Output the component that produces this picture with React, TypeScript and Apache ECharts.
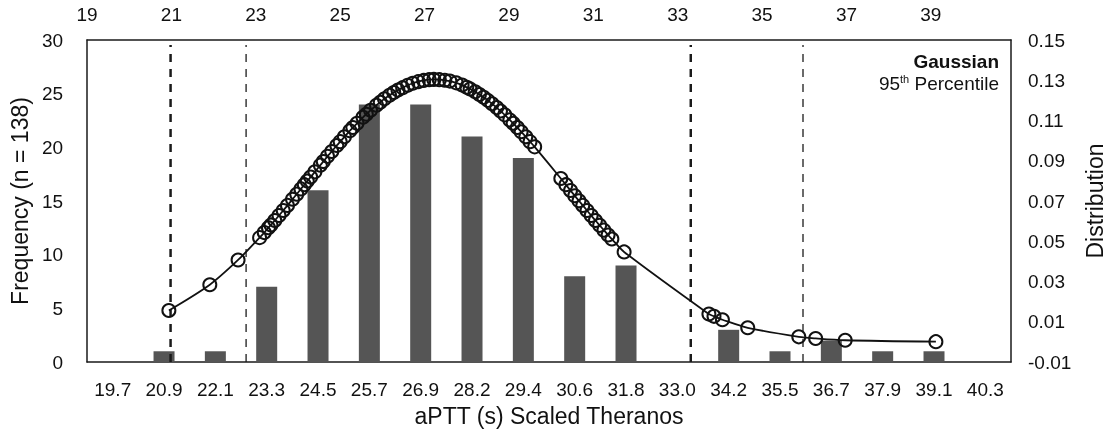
import React, { useEffect, useRef } from 'react';
import * as echarts from 'echarts';

// Histogram bins (bottom axis) and frequencies (left axis)
const categories = ['19.7', '20.9', '22.1', '23.3', '24.5', '25.7', '26.9', '28.2', '29.4', '30.6', '31.8', '33.0', '34.2', '35.5', '36.7', '37.9', '39.1', '40.3'];
const frequency = [0, 1, 1, 7, 16, 24, 24, 21, 19, 8, 9, 0, 3, 1, 2, 1, 1, 0];

// Top axis (aPTT values) and right axis (distribution) tick labels
const topTicks = [19, 21, 23, 25, 27, 29, 31, 33, 35, 37, 39];
const distTicks = [-0.01, 0.01, 0.03, 0.05, 0.07, 0.09, 0.11, 0.13, 0.15];

// Gaussian curve points (top axis x, right axis y)
const gaussX = [20.94, 21.91, 22.58,
  23.09, 23.2, 23.3, 23.36, 23.45, 23.55, 23.65, 23.75, 23.87, 23.97,
  24.07, 24.15, 24.22, 24.3, 24.4, 24.53, 24.6, 24.7, 24.8, 24.92,
  25.0, 25.1, 25.23, 25.3, 25.4, 25.54, 25.62, 25.72, 25.86, 25.95,
  26.05, 26.17, 26.27, 26.37, 26.48, 26.6, 26.72, 26.85, 26.98, 27.11,
  27.22, 27.35, 27.48, 27.6, 27.75, 27.89, 28.0, 28.08, 28.2, 28.3,
  28.4, 28.5, 28.6, 28.71, 28.8, 28.9, 29.02, 29.1, 29.2, 29.29,
  29.4, 29.5, 29.61,
  30.23, 30.35, 30.46, 30.56, 30.66, 30.75, 30.85, 30.95, 31.05, 31.15, 31.25, 31.35, 31.44, 31.73,
  33.74, 33.86, 34.06, 34.66, 35.87, 36.27, 36.97, 39.12];
const gaussY = [0.0156, 0.0284, 0.0407,
  0.0518, 0.0543, 0.0567, 0.0581, 0.0603, 0.0628, 0.0653, 0.0678, 0.0709, 0.0734,
  0.0760, 0.0781, 0.0799, 0.0819, 0.0845, 0.0878, 0.0896, 0.0922, 0.0946, 0.0976,
  0.0995, 0.1019, 0.1049, 0.1065, 0.1086, 0.1116, 0.1131, 0.1151, 0.1176, 0.1191,
  0.1208, 0.1225, 0.1239, 0.1251, 0.1263, 0.1275, 0.1285, 0.1293, 0.1299, 0.1303,
  0.1304, 0.1303, 0.1300, 0.1296, 0.1287, 0.1276, 0.1265, 0.1257, 0.1243, 0.1229,
  0.1215, 0.1200, 0.1183, 0.1164, 0.1147, 0.1128, 0.1103, 0.1086, 0.1065, 0.1044,
  0.1019, 0.0995, 0.0969,
  0.0812, 0.0781, 0.0752, 0.0726, 0.0701, 0.0678, 0.0653, 0.0628, 0.0603, 0.0579, 0.0555, 0.0531, 0.0511, 0.0447,
  0.0138, 0.0127, 0.0110, 0.0070, 0.0025, 0.0017, 0.0008, 0.0001];

// Vertical limit lines (top axis values)
const gaussianLimits = [20.98, 33.31];
const percentileLimits = [22.77, 35.97];
const limitLineSpan = [-0.01, 0.1475];

export default function App() {
  const ref = useRef<HTMLDivElement>(null);

  useEffect(() => {
    const chart = echarts.init(ref.current as HTMLDivElement, null, { renderer: 'svg' });
    const font = '"Liberation Sans", Arial, sans-serif';
    const ink = '#111111';
    const axisLine = { show: true, onZero: false, lineStyle: { color: '#1a1a1a', width: 1.5 } };

    const limitSeries = (v: number, width: number, dash: number[]) => ({
      type: 'line',
      xAxisIndex: 1,
      yAxisIndex: 1,
      data: [[v, limitLineSpan[0]], [v, limitLineSpan[1]]],
      symbol: 'none',
      silent: true,
      lineStyle: { color: '#1a1a1a', width, type: dash },
      z: 3,
    });

    chart.setOption({
      animation: false,
      textStyle: { fontFamily: font, color: ink },
      grid: { left: 84, right: 100, top: 40, bottom: 74 },
      xAxis: [
        {
          type: 'category',
          data: categories,
          position: 'bottom',
          boundaryGap: true,
          axisLine,
          axisTick: { show: false },
          axisLabel: { fontSize: 19, color: ink, margin: 18, interval: 0, fontFamily: font },
          splitLine: { show: false },
          name: 'aPTT (s) Scaled Theranos',
          nameLocation: 'middle',
          nameGap: 42,
          nameTextStyle: { fontSize: 23, color: ink, fontFamily: font },
        },
        {
          type: 'value',
          position: 'top',
          min: 19,
          max: 40.9,
          axisLine,
          axisTick: { show: false },
          splitLine: { show: false },
          axisLabel: {
            fontSize: 19, color: ink, margin: 16, fontFamily: font,
            customValues: topTicks,
            formatter: (v: number) => String(v),
          },
        },
      ],
      yAxis: [
        {
          type: 'value',
          position: 'left',
          min: 0,
          max: 30,
          interval: 5,
          axisLine,
          axisTick: { show: false },
          splitLine: { show: false },
          axisLabel: { fontSize: 19, color: ink, margin: 24, fontFamily: font },
          name: 'Frequency (n = 138)',
          nameLocation: 'middle',
          nameGap: 42,
          nameTextStyle: { fontSize: 23, color: ink, fontFamily: font },
        },
        {
          type: 'value',
          position: 'right',
          min: -0.01,
          max: 0.15,
          axisLine,
          axisTick: { show: false },
          splitLine: { show: false },
          axisLabel: {
            fontSize: 19, color: ink, margin: 17, fontFamily: font,
            customValues: distTicks,
            formatter: (v: number) => v.toFixed(2),
          },
          name: 'Distribution',
          nameLocation: 'middle',
          nameGap: 72,
          nameTextStyle: { fontSize: 23, color: ink, fontFamily: font },
        },
      ],
      series: [
        {
          type: 'bar',
          xAxisIndex: 0,
          yAxisIndex: 0,
          data: frequency,
          barWidth: 21,
          itemStyle: { color: '#555555' },
          silent: true,
          z: 2,
        },
        limitSeries(gaussianLimits[0], 2.5, [8, 7]),
        limitSeries(gaussianLimits[1], 2.5, [8, 7]),
        limitSeries(percentileLimits[0], 1.3, [8, 7]),
        limitSeries(percentileLimits[1], 1.3, [8, 7]),
        {
          type: 'line',
          xAxisIndex: 1,
          yAxisIndex: 1,
          data: gaussX.map((x, i) => [x, gaussY[i]]),
          smooth: 0.3,
          symbol: 'circle',
          symbolSize: 13,
          showAllSymbol: true,
          lineStyle: { color: ink, width: 1.8 },
          itemStyle: { color: 'rgba(255,255,255,0)', borderColor: ink, borderWidth: 2 },
          silent: true,
          z: 5,
        },
      ],
      graphic: [
        {
          type: 'text',
          x: 999,
          y: 61,
          style: {
            text: 'Gaussian',
            align: 'right',
            verticalAlign: 'middle',
            fontSize: 19,
            fontWeight: 'bold',
            fontFamily: font,
            fill: ink,
          },
        },
        {
          type: 'text',
          x: 999,
          y: 83,
          style: {
            text: '{n|95}{s|th}{n| Percentile}',
            align: 'right',
            verticalAlign: 'middle',
            fontSize: 19,
            fontFamily: font,
            fill: ink,
            rich: {
              n: { fontSize: 19, fontFamily: font, fill: ink, lineHeight: 20 },
              s: { fontSize: 11, fontFamily: font, fill: ink, verticalAlign: 'top' },
            },
          },
        },
      ],
    });

    return () => chart.dispose();
  }, []);

  return <div ref={ref} style={{ position: 'fixed', left: 0, top: 0, width: 1114, height: 436 }} />;
}
